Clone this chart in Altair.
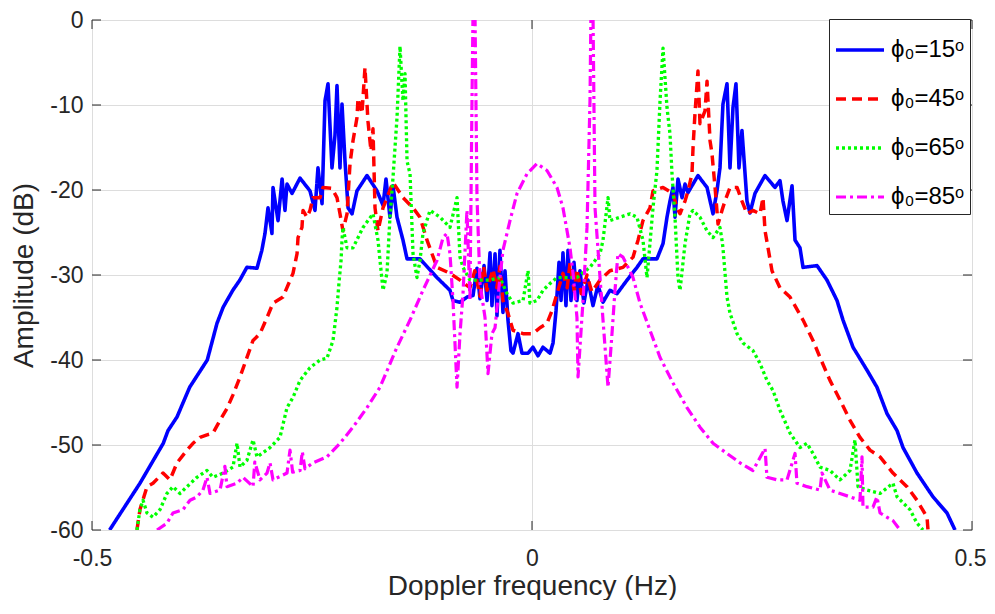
import altair as alt
import pandas as pd

labels = ["ϕ₀=15ᵒ", "ϕ₀=45ᵒ", "ϕ₀=65ᵒ", "ϕ₀=85ᵒ"]
colors = ["#0000ff", "#ff0000", "#00ff00", "#ff00ff"]
widths = [3.6, 3.2, 3.2, 3.2]
dashes = [[1, 0], [10, 6], [3, 3], [10, 4, 3, 4]]
x_ticks = [-0.5, 0, 0.5]
y_ticks = [-60, -50, -40, -30, -20, -10, 0]

f15 = [-0.480, -0.4455, -0.419, -0.4136, -0.4034, -0.389, -0.369, -0.358, -0.351, -0.340,
       -0.332, -0.324, -0.3125, -0.307, -0.3034, -0.300, -0.2955, -0.2943, -0.2886, -0.284,
       -0.2807, -0.2784, -0.2727, -0.2636, -0.2523, -0.2466, -0.2432, -0.2386, -0.2352, -0.2318,
       -0.2273, -0.2239, -0.2216, -0.2182, -0.2159, -0.2125, -0.209, -0.2045, -0.1989, -0.1875,
       -0.1761, -0.1693, -0.1659, -0.1614, -0.158, -0.1534, -0.1466, -0.142, -0.1273, -0.108,
       -0.0932, -0.0898, -0.0818, -0.0739, -0.067, -0.0625, -0.0591, -0.0545, -0.0511, -0.0477,
       -0.0455, -0.042, -0.0398, -0.0364, -0.033, -0.0307, -0.0273, -0.0239, -0.0216, -0.0159,
       -0.0114, -0.0045, 0.0011, 0.0068, 0.0125, 0.0205, 0.0239, 0.0273, 0.0307, 0.033,
       0.0352, 0.0386, 0.0409, 0.0443, 0.0477, 0.0511, 0.0545, 0.059, 0.0636, 0.0693,
       0.075, 0.0807, 0.0886, 0.0966, 0.108, 0.1193, 0.1261, 0.142, 0.1489, 0.1534,
       0.1568, 0.1602, 0.1625, 0.1659, 0.1705, 0.1739, 0.1773, 0.1886, 0.1989, 0.2057,
       0.2102, 0.2136, 0.217, 0.2216, 0.225, 0.2284, 0.2318, 0.2352, 0.2386, 0.2443,
       0.2477, 0.2534, 0.2648, 0.2761, 0.2818, 0.2852, 0.2898, 0.2955, 0.2989, 0.3045,
       0.308, 0.3239, 0.3352, 0.3466, 0.3534, 0.3648, 0.3807, 0.392, 0.4034, 0.4148,
       0.4216, 0.4375, 0.4557, 0.4716, 0.4807]
a15 = [-60.0, -54.5, -49.8, -48.3, -46.7, -43.2, -40.0, -35.7, -33.8, -31.8,
       -30.6, -29.1, -29.2, -27.1, -25.1, -22.1, -25.1, -19.7, -23.6, -18.7,
       -22.4, -19.3, -20.4, -18.6, -20.1, -22.4, -17.4, -21.6, -9.5, -7.5,
       -17.4, -13.6, -7.7, -17.4, -9.9, -16.6, -22.1, -22.8, -20.1, -18.3,
       -20.1, -21.8, -18.7, -23.2, -19.5, -23.2, -25.9, -28.1, -28.1, -30.3,
       -31.8, -33.0, -33.2, -32.6, -32.4, -29.2, -32.8, -28.9, -33.0, -27.4,
       -33.6, -27.5, -34.8, -27.1, -34.4, -29.5, -35.3, -38.9, -39.2, -36.9,
       -39.2, -39.2, -38.5, -39.5, -38.5, -39.2, -38.0, -34.2, -28.5, -33.0,
       -27.4, -33.6, -27.1, -33.0, -28.5, -33.0, -29.5, -33.3, -30.6, -33.6,
       -31.2, -33.2, -31.8, -32.2, -30.6, -29.1, -28.1, -28.1, -26.3, -23.2,
       -21.3, -19.7, -23.2, -18.7, -20.9, -19.3, -20.3, -18.3, -19.7, -22.8,
       -20.1, -17.4, -9.9, -7.5, -17.4, -10.3, -7.5, -17.4, -13.0, -21.3,
       -22.7, -20.4, -18.3, -19.7, -18.9, -21.3, -23.6, -19.5, -25.9, -26.8,
       -29.1, -28.9, -30.6, -33.0, -35.3, -38.5, -41.2, -43.2, -46.3, -48.3,
       -50.3, -53.3, -56.1, -58.0, -60.0]

f45 = [-0.4489, -0.4455, -0.4375, -0.4307, -0.4193, -0.4114, -0.4034, -0.392, -0.3852, -0.3773,
       -0.3693, -0.3625, -0.3545, -0.3466, -0.3398, -0.3318, -0.3239, -0.317, -0.3091, -0.3011,
       -0.2943, -0.283, -0.2716, -0.267, -0.2659, -0.2614, -0.2602, -0.2557, -0.2523, -0.2489,
       -0.2409, -0.2375, -0.2273, -0.2216, -0.2182, -0.2148, -0.2102, -0.2068, -0.2034, -0.1989,
       -0.1977, -0.1932, -0.1898, -0.1864, -0.183, -0.1807, -0.1784, -0.175, -0.1693, -0.158,
       -0.1466, -0.1352, -0.1273, -0.1193, -0.108, -0.0932, -0.0818, -0.0705, -0.065, -0.0591,
       -0.055, -0.0511, -0.0443, -0.04, -0.0364, -0.033, -0.0273, -0.0216, -0.0102, 0.0011,
       0.0091, 0.017, 0.0227, 0.0284, 0.0352, 0.04, 0.0432, 0.048, 0.0511, 0.056,
       0.0625, 0.068, 0.0773, 0.0886, 0.1034, 0.1148, 0.1205, 0.1261, 0.1341, 0.1375,
       0.1489, 0.1602, 0.1648, 0.1682, 0.1739, 0.1773, 0.1818, 0.183, 0.1852, 0.1886,
       0.1909, 0.1966, 0.1989, 0.2023, 0.2045, 0.208, 0.2114, 0.2159, 0.2193, 0.225,
       0.233, 0.2386, 0.2443, 0.2511, 0.2591, 0.2625, 0.2648, 0.2682, 0.2727, 0.2818,
       0.2932, 0.308, 0.3193, 0.3273, 0.3386, 0.35, 0.3614, 0.3727, 0.3841, 0.3955,
       0.4102, 0.4261, 0.4375, 0.4489, 0.45]
a45 = [-60.0, -57.6, -54.9, -54.5, -53.3, -54.1, -52.1, -50.6, -49.8, -49.1,
       -48.8, -48.6, -47.1, -45.7, -44.1, -42.0, -39.7, -37.7, -36.9, -35.0,
       -33.3, -32.6, -29.8, -27.5, -25.6, -24.4, -22.4, -23.2, -22.4, -20.9,
       -20.9, -19.7, -19.8, -20.9, -22.8, -24.8, -22.8, -16.9, -14.2, -11.5,
       -9.2, -11.0, -5.6, -11.9, -15.4, -12.8, -22.1, -24.8, -22.1, -19.1,
       -20.9, -22.1, -23.2, -25.9, -29.1, -29.8, -30.6, -31.5, -29.5, -32.5,
       -29.0, -31.8, -29.3, -31.5, -29.0, -33.0, -34.5, -36.5, -36.9, -36.9,
       -36.2, -35.7, -34.2, -32.2, -29.8, -31.5, -28.6, -31.9, -29.3, -32.2,
       -30.0, -32.0, -30.6, -29.5, -29.1, -27.9, -25.9, -23.6, -22.1, -20.1,
       -19.7, -20.4, -22.1, -22.8, -21.3, -20.1, -18.1, -15.0, -11.0, -6.0,
       -12.2, -10.7, -7.2, -14.2, -15.7, -19.7, -24.0, -22.4, -21.3, -19.7,
       -19.7, -21.3, -22.8, -22.4, -22.8, -20.9, -24.8, -26.8, -29.5, -31.5,
       -32.6, -35.3, -37.7, -39.7, -42.4, -44.7, -47.1, -49.1, -50.6, -51.4,
       -53.3, -54.9, -56.5, -58.5, -60.0]

f65 = [-0.4489, -0.4455, -0.442, -0.4375, -0.4307, -0.4227, -0.4148, -0.408, -0.4, -0.392,
       -0.3807, -0.3693, -0.3625, -0.3511, -0.3398, -0.3352, -0.3318, -0.3239, -0.317, -0.3125,
       -0.2977, -0.2864, -0.2784, -0.2716, -0.2636, -0.2523, -0.2409, -0.233, -0.2261, -0.2216,
       -0.2194, -0.217, -0.2159, -0.2148, -0.2102, -0.2034, -0.192, -0.1807, -0.175, -0.1693,
       -0.1648, -0.1614, -0.158, -0.1534, -0.15, -0.1466, -0.1443, -0.142, -0.1386, -0.1352,
       -0.1307, -0.1273, -0.1239, -0.1159, -0.1045, -0.0932, -0.0852, -0.0818, -0.0784, -0.0705,
       -0.0591, -0.0477, -0.0364, -0.0284, -0.0216, -0.0102, -0.0045, -0.0023, 0.0057, 0.0125,
       0.0205, 0.0284, 0.0398, 0.0511, 0.0659, 0.0773, 0.0807, 0.0864, 0.0886, 0.1,
       0.1114, 0.1193, 0.1261, 0.1307, 0.1375, 0.142, 0.1455, 0.1489, 0.1534, 0.1568,
       0.1591, 0.1625, 0.1659, 0.1682, 0.1739, 0.1795, 0.183, 0.1909, 0.1989, 0.2057,
       0.2136, 0.2159, 0.217, 0.2216, 0.225, 0.233, 0.2398, 0.2511, 0.2591, 0.267,
       0.2739, 0.2818, 0.2932, 0.3045, 0.3125, 0.3193, 0.3273, 0.3386, 0.35, 0.3614,
       0.367, 0.3705, 0.3807, 0.3955, 0.4102, 0.4148, 0.4216, 0.4295, 0.4375, 0.4443]
a65 = [-60.0, -57.6, -56.5, -58.0, -58.5, -57.6, -55.7, -54.9, -55.7, -54.9,
       -53.8, -53.0, -53.8, -53.3, -52.6, -49.8, -52.6, -51.8, -49.4, -51.4,
       -50.3, -49.1, -45.6, -44.4, -42.4, -40.9, -40.0, -39.8, -37.7, -33.8,
       -31.0, -28.3, -25.9, -24.4, -26.8, -26.8, -24.4, -22.8, -25.9, -31.8,
       -29.8, -23.2, -18.6, -11.5, -3.1, -9.5, -6.3, -16.6, -18.1, -27.5,
       -30.3, -28.3, -25.1, -22.4, -23.2, -24.4, -20.9, -27.9, -29.1, -30.6,
       -30.6, -30.6, -30.3, -32.2, -33.3, -33.0, -29.5, -33.3, -33.0, -31.8,
       -31.0, -30.3, -30.3, -30.3, -29.1, -27.5, -25.9, -20.9, -23.6, -23.2,
       -22.8, -23.2, -25.9, -30.3, -22.1, -17.7, -9.5, -3.3, -10.3, -13.4,
       -18.1, -23.2, -30.3, -31.8, -26.3, -22.8, -22.4, -23.2, -24.8, -25.6,
       -24.4, -25.9, -26.8, -32.6, -34.5, -36.9, -38.0, -38.9, -40.4, -42.4,
       -43.6, -45.9, -48.6, -50.3, -49.8, -51.0, -52.6, -53.0, -54.1, -53.0,
       -49.4, -54.9, -55.3, -55.7, -54.5, -56.1, -56.8, -57.6, -59.2, -60.0]

f85 = [-0.4261, -0.4148, -0.408, -0.3966, -0.3886, -0.3807, -0.3739, -0.3693, -0.3659, -0.3545,
       -0.349, -0.3466, -0.3352, -0.3284, -0.317, -0.315, -0.3091, -0.3011, -0.2977, -0.2943,
       -0.2784, -0.275, -0.272, -0.2636, -0.261, -0.258, -0.2489, -0.233, -0.2182, -0.2034,
       -0.1875, -0.1727, -0.1534, -0.1386, -0.1239, -0.108, -0.1011, -0.0966, -0.0932, -0.0898,
       -0.0852, -0.0818, -0.0784, -0.0739, -0.0705, -0.0682, -0.067, -0.0648, -0.0625, -0.0591,
       -0.0534, -0.05, -0.0455, -0.042, -0.0364, -0.033, -0.025, -0.017, -0.0057, 0.0057,
       0.017, 0.0284, 0.0352, 0.0432, 0.0466, 0.0511, 0.0523, 0.058, 0.0625, 0.0659,
       0.067, 0.0693, 0.0716, 0.0773, 0.0807, 0.0864, 0.0909, 0.0943, 0.0977, 0.1034,
       0.1148, 0.1227, 0.1341, 0.1455, 0.1602, 0.1761, 0.1909, 0.2057, 0.2216, 0.2364,
       0.2511, 0.2648, 0.267, 0.2784, 0.2898, 0.2989, 0.3011, 0.3125, 0.3273, 0.3295,
       0.3386, 0.35, 0.3614, 0.3727, 0.375, 0.3761, 0.3875, 0.392, 0.3955, 0.4034,
       0.4102, 0.4182]
a85 = [-60.0, -59.2, -58.0, -57.6, -56.5, -56.1, -55.3, -53.8, -55.7, -55.3,
       -52.5, -54.9, -54.5, -53.8, -54.9, -52.0, -54.1, -53.3, -52.1, -54.1,
       -53.3, -50.6, -53.2, -53.0, -50.8, -52.8, -52.1, -51.4, -49.8, -47.9,
       -45.6, -43.2, -38.5, -35.3, -31.8, -28.3, -25.6, -25.1, -27.5, -33.0,
       -43.2, -36.9, -32.2, -22.4, -33.0, -9.5, 1.0, 1.0, -20.9, -31.0,
       -35.0, -41.6, -36.9, -36.2, -30.3, -27.1, -23.6, -20.4, -18.1, -16.9,
       -17.7, -19.7, -22.1, -26.8, -29.8, -35.0, -42.0, -33.0, -24.4, -9.5,
       1.0, 1.0, -22.1, -30.3, -35.3, -43.2, -36.9, -31.8, -27.5, -27.9,
       -30.3, -33.3, -36.5, -39.7, -42.7, -45.6, -47.9, -49.8, -51.0, -52.1,
       -53.0, -50.4, -53.8, -54.1, -54.1, -51.0, -54.5, -54.9, -55.3, -53.3,
       -55.3, -55.7, -56.1, -56.5, -51.4, -57.3, -57.3, -56.1, -58.0, -58.5,
       -58.9, -60.0]

rows = []
for lab, fs, amps in zip(labels, [f15, f45, f65, f85], [a15, a45, a65, a85]):
    for i, (f, a) in enumerate(zip(fs, amps)):
        rows.append({"f": f, "amp": a, "series": lab, "idx": i})
df = pd.DataFrame(rows)

W, H = 880, 510
FONT = "Liberation Sans"
TXT = "#262626"

legend = alt.Legend(
    title=None, orient="none", legendX=737, legendY=-1,
    symbolType="stroke", symbolSize=2304, symbolStrokeWidth=3,
    labelFontSize=24, labelFont=FONT, labelColor="black", labelOffset=5,
    padding=5, rowPadding=11, strokeColor=TXT, fillColor="white",
)

minus_expr = "(datum.value < 0 ? '-' : '') + abs(datum.value)"

x_enc = alt.X(
    "f:Q",
    scale=alt.Scale(domain=[-0.5, 0.5], nice=False, zero=False),
    axis=alt.Axis(
        values=x_ticks, title="Doppler frequency (Hz)", labelExpr=minus_expr,
        grid=True, ticks=False, domain=False, labelFlush=False, labelOverlap=False,
        labelBound=False,
        labelOffset={"condition": {"test": "datum.value > 0.4", "value": -2}, "value": 0},
        labelPadding=17, labelFontSize=23, labelFont=FONT, labelColor=TXT,
        titleFontSize=28, titleFont=FONT, titleFontWeight="normal", titleColor=TXT,
        titleX=W / 2, titleY=64, titleBaseline="alphabetic", titleAlign="center",
    ),
)
y_enc = alt.Y(
    "amp:Q",
    scale=alt.Scale(domain=[-60, 0], nice=False, zero=False),
    axis=alt.Axis(
        values=y_ticks, title="Amplitude (dB)", labelExpr=minus_expr,
        grid=True, ticks=False, domain=False, labelFlush=False, labelOverlap=False,
        labelPadding=9, labelFontSize=23, labelFont=FONT, labelColor=TXT,
        titleFontSize=28, titleFont=FONT, titleFontWeight="normal", titleColor=TXT,
        titleX=-68, titleY=H / 2, titleAngle=-90, titleAlign="center",
        titleBaseline="middle",
    ),
)

lines = alt.Chart(df).mark_line(clip=True, strokeJoin="round").encode(
    x=x_enc,
    y=y_enc,
    color=alt.Color("series:N", scale=alt.Scale(domain=labels, range=colors), legend=legend),
    strokeDash=alt.StrokeDash("series:N", scale=alt.Scale(domain=labels, range=dashes), legend=legend),
    strokeWidth=alt.StrokeWidth("series:N", scale=alt.Scale(domain=labels, range=widths), legend=None),
    order=alt.Order("idx:Q"),
)

ydf = pd.DataFrame({"amp": y_ticks})
xdf = pd.DataFrame({"f": x_ticks})
tick_style = dict(color=TXT, strokeWidth=1)
left_ticks = alt.Chart(ydf).mark_rule(**tick_style).encode(
    y="amp:Q", x=alt.value(0), x2=alt.value(9))
right_ticks = alt.Chart(ydf).mark_rule(**tick_style).encode(
    y="amp:Q", x=alt.value(W - 9), x2=alt.value(W))
top_ticks = alt.Chart(xdf).mark_rule(**tick_style).encode(
    x="f:Q", y=alt.value(0), y2=alt.value(9))
bottom_ticks = alt.Chart(xdf).mark_rule(**tick_style).encode(
    x="f:Q", y=alt.value(H - 9), y2=alt.value(H))

chart = alt.layer(left_ticks, right_ticks, top_ticks, bottom_ticks, lines).properties(
    width=W, height=H,
    autosize=alt.AutoSizeParams(type="none"),
    padding={"left": 84, "top": 12, "right": 15, "bottom": 70},
).configure_view(
    stroke=TXT, strokeWidth=1
).configure_axis(
    gridColor="#dcdcdc", gridWidth=1, gridOpacity=1
).configure(background="white")

chart.save("out.html", embed_options={"renderer": "svg", "actions": False})
